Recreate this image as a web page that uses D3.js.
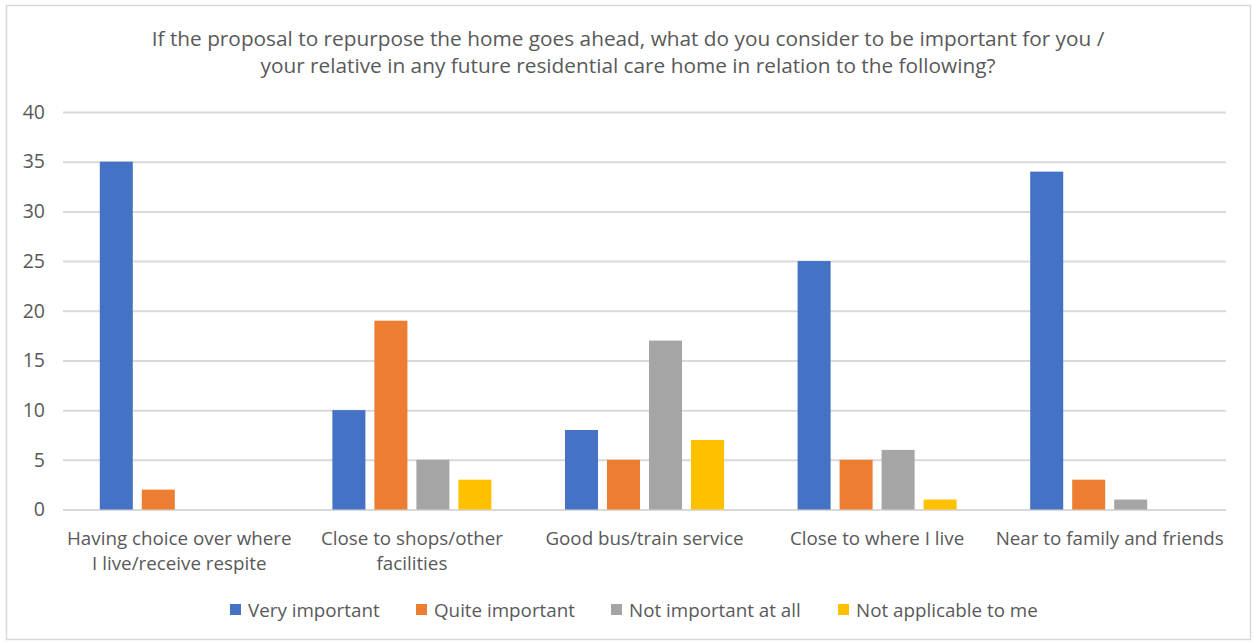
<!DOCTYPE html>
<html><head><meta charset="utf-8">
<script src="https://cdn.jsdelivr.net/npm/d3@7"></script>
<style>body{margin:0;background:#fff;} svg{display:block;}</style>
</head><body>
<svg id="c" width="1253" height="643"></svg>
<script>
const categories = [
  ["Having choice over where", "I live/receive respite"],
  ["Close to shops/other", "facilities"],
  ["Good bus/train service"],
  ["Close to where I live"],
  ["Near to family and friends"]
];
const seriesNames = ["Very important", "Quite important", "Not important at all", "Not applicable to me"];
const veryImportant = [35, 10, 8, 25, 34];
const quiteImportant = [2, 19, 5, 5, 3];
const notImportant = [0, 5, 17, 6, 1];
const notApplicable = [0, 3, 7, 1, 0];
const yTicks = [0, 5, 10, 15, 20, 25, 30, 35, 40];
const titleLines = ["If the proposal to repurpose the home goes ahead, what do you consider to be important for you /",
  "your relative in any future residential care home in relation to the following?"];
const colors = ["#4472C4", "#ED7D31", "#A5A5A5", "#FFC000"];

const series = [veryImportant, quiteImportant, notImportant, notApplicable];
const svg = d3.select("#c");
const font = "'Open Sans', sans-serif";
const txt = "#595959";

svg.append("rect").attr("x", 6.5).attr("y", 5.5).attr("width", 1244).attr("height", 634)
  .attr("fill", "#fff").attr("stroke", "#d9d9d9").attr("stroke-width", 1.5);

const x0 = d3.scaleBand().domain(d3.range(categories.length)).range([63, 1226]).paddingInner(0).paddingOuter(0);
const x1 = d3.scaleBand().domain(d3.range(4)).range([0, x0.bandwidth()]).paddingInner(0.214).paddingOuter(0.876);
const y = d3.scaleLinear().domain([0, 40]).range([509.5, 112]);

const title = svg.append("text").attr("x", 628).attr("y", 46).attr("text-anchor", "middle")
  .attr("font-family", font).attr("font-size", 20.8).attr("fill", txt);
titleLines.forEach((l, i) => title.append("tspan").attr("x", 628).attr("dy", i ? 27 : 0).text(l));

const yAxis = svg.append("g").attr("transform", "translate(63,0)")
  .call(d3.axisLeft(y).tickValues(yTicks).tickSize(-1163).tickPadding(18));
yAxis.select(".domain").remove();
yAxis.selectAll("line").attr("stroke", "#d9d9d9").attr("stroke-width", 2);
yAxis.selectAll("text").attr("font-family", font).attr("font-size", 19.5).attr("fill", txt);

const groups = svg.append("g").selectAll("g").data(categories).join("g")
  .attr("transform", (d, i) => `translate(${x0(i)},0)`);
groups.selectAll("rect").data((d, i) => series.map((s, k) => ({k, v: s[i]})).filter(e => e.v > 0)).join("rect")
  .attr("x", d => x1(d.k)).attr("width", x1.bandwidth())
  .attr("y", d => y(d.v)).attr("height", d => y(0) - y(d.v))
  .attr("fill", d => colors[d.k]);

const xl = svg.append("g");
categories.forEach((lines, i) => {
  const t = xl.append("text").attr("text-anchor", "middle").attr("font-family", font)
    .attr("font-size", 18.8).attr("fill", txt).attr("y", 545);
  lines.forEach((l, j) => t.append("tspan").attr("x", x0(i) + x0.bandwidth() / 2).attr("dy", j ? 24.5 : 0).text(l));
});

const legX = [230, 416, 611, 838];
const leg = svg.append("g");
seriesNames.forEach((n, i) => {
  leg.append("rect").attr("x", legX[i]).attr("y", 604).attr("width", 11).attr("height", 11).attr("fill", colors[i]);
  leg.append("text").attr("x", legX[i] + 18).attr("y", 617).attr("font-family", font)
    .attr("font-size", 18.8).attr("fill", txt).text(n);
});
</script>
</body></html>
